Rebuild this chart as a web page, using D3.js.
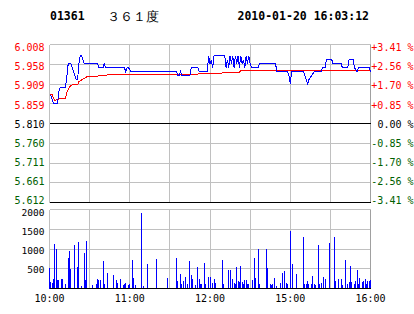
<!DOCTYPE html>
<html>
<head>
<meta charset="utf-8">
<script src="https://cdn.jsdelivr.net/npm/d3@7"></script>
<style>
  body { margin: 0; background: #fff; }
  svg { display: block; }
  text { font-family: "DejaVu Sans Mono", monospace; }
</style>
</head>
<body>
<svg id="chart" width="414" height="314"></svg>
<script>
// header
const stockCode = "01361";
const stockName = "３６１度";
const stamp = "2010-01-20 16:03:12";

// axes
const preClose = 5.810;
const priceTicks = [6.008, 5.958, 5.909, 5.859, 5.810, 5.760, 5.711, 5.661, 5.612];
const pctLabels = ["+3.41 %", "+2.56 %", "+1.70 %", "+0.85 %", "0.00 %", "-0.85 %", "-1.70 %", "-2.56 %", "-3.41 %"];
const volTicks = [500, 1000, 1500, 2000];
const timeTicks = [0, 60, 120, 180, 240];
const timeLabels = ["10:00", "11:00", "12:00", "15:00", "16:00"];
const gridMinutes = [30, 60, 90, 120, 150, 180, 210];

// price (minutes after open)
const priceTime = [0, 1, 3, 6, 7, 8, 12, 13, 14, 16, 18, 20, 21, 22, 23, 24, 25, 26, 36, 37, 40, 41, 42, 56, 57, 58, 59, 61,
  95, 96, 97, 98, 99, 105, 106, 111, 112, 118, 119, 120, 121, 122, 123, 131, 132, 133, 134, 135, 136, 137, 138, 139,
  140, 141, 142, 143, 144, 145, 146, 147, 148, 149, 150, 151, 156, 157, 169, 170, 178, 179, 180, 181, 190, 191, 192,
  193, 194, 196, 198, 203, 204, 206, 207, 211, 212, 218, 219, 223, 224, 227, 228, 230, 231, 239, 240];
const priceValue = [5.88, 5.88, 5.86, 5.86, 5.89, 5.90, 5.90, 5.93, 5.96, 5.96, 5.94, 5.92, 5.92, 5.96, 5.98, 5.98, 5.97, 5.96, 5.96, 5.95, 5.95, 5.96, 5.95, 5.95, 5.94, 5.95, 5.95, 5.94,
  5.94, 5.93, 5.93, 5.94, 5.93, 5.93, 5.95, 5.95, 5.94, 5.94, 5.98, 5.96, 5.97, 5.95, 5.98, 5.98, 5.95, 5.97, 5.95, 5.98, 5.96, 5.98, 5.95, 5.98,
  5.96, 5.98, 5.95, 5.98, 5.96, 5.97, 5.95, 5.98, 5.96, 5.98, 5.96, 5.95, 5.95, 5.96, 5.96, 5.94, 5.94, 5.93, 5.91, 5.94, 5.94, 5.93, 5.92,
  5.91, 5.92, 5.93, 5.94, 5.94, 5.95, 5.95, 5.97, 5.97, 5.96, 5.96, 5.95, 5.95, 5.97, 5.97, 5.95, 5.94, 5.95, 5.95, 5.94];

// average price
const avgTime = [0, 2, 4, 6, 9, 12, 13, 15, 17, 21, 22, 25, 28, 36, 37, 42, 43, 66, 67, 111, 112, 129, 130, 142, 143, 162, 163, 210, 211, 240];
const avgValue = [5.882, 5.882, 5.867, 5.871, 5.872, 5.873, 5.889, 5.902, 5.907, 5.907, 5.915, 5.921, 5.927, 5.928, 5.930, 5.930, 5.932, 5.932, 5.934, 5.934,
  5.936, 5.936, 5.939, 5.939, 5.942, 5.942, 5.943, 5.943, 5.944, 5.944];

// volume
const volTime = [0, 1, 2, 3, 4, 5, 6, 7, 9, 10, 12, 14, 15, 16, 19, 21, 22, 24, 26, 27, 28, 32, 35, 36, 37, 38, 40, 41, 43, 48, 50, 51, 53, 55, 56, 57, 59, 60,
  62, 63, 64, 69, 70, 73, 80, 88, 95, 96, 98, 99, 100, 102, 103, 105, 106, 107, 109, 111, 112, 113, 114, 116, 117, 119, 120, 122, 123, 124,
  129, 130, 134, 135, 137, 138, 139, 140, 141, 142, 143, 144, 145, 146, 147, 148, 149, 152, 153, 154, 156, 157, 162, 163, 165, 166, 167, 168,
  170, 173, 174, 176, 177, 178, 180, 182, 185, 190, 191, 192, 193, 194, 196, 197, 198, 199, 201, 202, 203, 205, 206, 209, 213, 214, 216,
  218, 219, 221, 223, 224, 225, 226, 228, 229, 230, 231, 232, 234, 235, 236, 237, 238, 239, 240];
const volValue = [510, 170, 145, 250, 1120, 990, 210, 210, 235, 235, 110, 775, 945, 505, 1095, 550, 1170, 60, 910, 210, 1195, 85, 110, 235, 210, 210, 690, 110, 395, 335, 210, 150, 235, 85, 110, 145, 100, 110,
  715, 270, 85, 1905, 60, 630, 735, 255, 760, 195, 360, 125, 195, 280, 110, 690, 335, 235, 85, 540, 230, 110, 110, 640, 125, 295, 295, 150, 230, 145,
  715, 110, 480, 465, 230, 145, 125, 550, 195, 160, 565, 170, 125, 210, 210, 125, 125, 210, 765, 255, 1010, 110, 1010, 530, 110, 85, 110, 270,
  60, 150, 405, 440, 145, 110, 1450, 615, 360, 1305, 110, 110, 195, 110, 110, 320, 110, 85, 1105, 110, 145, 295, 230, 1155, 1300, 195, 230,
  230, 85, 715, 125, 170, 565, 170, 125, 195, 465, 125, 270, 170, 185, 230, 110, 195, 195, 210];

const svg = d3.select("#chart").attr("shape-rendering", "crispEdges");

const x = d3.scaleLinear().domain([0, 240]).range([49.5, 370.5]);
const y = d3.scaleLinear().domain([5.612, 6.008]).range([202.5, 44.5]);
const yLabel = d3.scaleLinear().domain([5.612, 6.008]).range([200.5, 47.7]);
const yVol = d3.scaleLinear().domain([0, 2000]).range([288.5, 209.5]);
const yVolLabel = d3.scaleLinear().domain([500, 2000]).range([270, 213]);

const grid = "#c0c0c0";

// price pane grid
svg.append("g").selectAll("line").data(priceTicks.filter(v => v !== preClose && v !== 5.612))
  .join("line")
  .attr("x1", x(0)).attr("x2", x(240))
  .attr("y1", d => y(d)).attr("y2", d => y(d))
  .attr("stroke", grid);
svg.append("g").selectAll("line").data(gridMinutes)
  .join("line")
  .attr("x1", d => x(d)).attr("x2", d => x(d))
  .attr("y1", y(6.008)).attr("y2", y(5.612))
  .attr("stroke", grid);
svg.append("line").attr("x1", x(0)).attr("x2", x(0)).attr("y1", y(6.008)).attr("y2", y(5.612)).attr("stroke", grid);
svg.append("line").attr("x1", x(240)).attr("x2", x(240)).attr("y1", y(6.008)).attr("y2", y(5.612)).attr("stroke", "#a0a0a0");
svg.append("line").attr("x1", x(0)).attr("x2", x(240)).attr("y1", y(preClose)).attr("y2", y(preClose)).attr("stroke", "#000");
svg.append("line").attr("x1", x(0)).attr("x2", x(240)).attr("y1", y(5.612)).attr("y2", y(5.612)).attr("stroke", "#000");

// volume pane grid
svg.append("g").selectAll("line").data(volTicks)
  .join("line")
  .attr("x1", x(0)).attr("x2", x(240))
  .attr("y1", d => yVol(d)).attr("y2", d => yVol(d))
  .attr("stroke", grid);
svg.append("g").selectAll("line").data(gridMinutes)
  .join("line")
  .attr("x1", d => x(d)).attr("x2", d => x(d))
  .attr("y1", yVol(2000)).attr("y2", yVol(0))
  .attr("stroke", grid);
svg.append("line").attr("x1", x(0)).attr("x2", x(0)).attr("y1", yVol(2000)).attr("y2", yVol(0)).attr("stroke", grid);
svg.append("line").attr("x1", x(240)).attr("x2", x(240)).attr("y1", yVol(2000)).attr("y2", yVol(0)).attr("stroke", "#a0a0a0");

// volume bars
svg.append("g").selectAll("rect").data(volTime)
  .join("rect")
  .attr("x", d => Math.round(x(d) - 0.5))
  .attr("width", 1)
  .attr("y", (d, i) => Math.round(yVol(volValue[i])))
  .attr("height", (d, i) => Math.round(yVol(0)) - Math.round(yVol(volValue[i])))
  .attr("fill", "#0000ff");
svg.append("line").attr("x1", x(0)).attr("x2", x(240)).attr("y1", yVol(0)).attr("y2", yVol(0)).attr("stroke", "#000");

// lines
const line = d3.line().x(d => x(d[0])).y(d => y(d[1]));
svg.append("path")
  .attr("d", line(d3.zip(avgTime, avgValue)))
  .attr("fill", "none").attr("stroke", "#ff0000").attr("stroke-width", 1);
svg.append("path")
  .attr("d", line(d3.zip(priceTime, priceValue)))
  .attr("fill", "none").attr("stroke", "#0000ff").attr("stroke-width", 1);

// labels
const tone = v => v > preClose ? "#ff0000" : v < preClose ? "#006000" : "#000";
svg.append("g").attr("shape-rendering", "auto").selectAll("text").data(priceTicks)
  .join("text")
  .attr("x", 44.5).attr("y", d => yLabel(d))
  .attr("dy", "0.35em")
  .attr("text-anchor", "end")
  .attr("font-size", 10)
  .attr("fill", tone)
  .text(d => d.toFixed(3));
svg.append("g").selectAll("text").data(pctLabels)
  .join("text")
  .attr("x", 413.5).attr("y", (d, i) => yLabel(priceTicks[i]))
  .attr("dy", "0.35em")
  .attr("text-anchor", "end")
  .attr("font-size", 10)
  .attr("fill", (d, i) => tone(priceTicks[i]))
  .text(d => d);
svg.append("g").selectAll("text").data(volTicks)
  .join("text")
  .attr("x", 44.5).attr("y", d => yVolLabel(d))
  .attr("dy", "0.35em")
  .attr("text-anchor", "end")
  .attr("font-family", "DejaVu Sans, sans-serif")
  .attr("font-size", 9.5)
  .attr("fill", "#000")
  .text(d => d);
svg.append("g").selectAll("text").data(timeTicks)
  .join("text")
  .attr("x", d => x(d)).attr("y", 302)
  .attr("text-anchor", "middle")
  .attr("font-family", "DejaVu Sans, sans-serif")
  .attr("font-size", 10)
  .attr("fill", "#000")
  .text((d, i) => timeLabels[i]);

// header
svg.append("text").attr("x", 50).attr("y", 20)
  .attr("font-size", 11.5).attr("font-weight", "bold").text(stockCode);
svg.append("text").attr("x", 106.5).attr("y", 20.5)
  .attr("font-family", "Noto Sans CJK SC, sans-serif")
  .attr("font-size", 12.5).text(stockName);
svg.append("text").attr("x", 237.5).attr("y", 20)
  .attr("font-size", 11.5).attr("font-weight", "bold").text(stamp);
</script>
</body>
</html>
